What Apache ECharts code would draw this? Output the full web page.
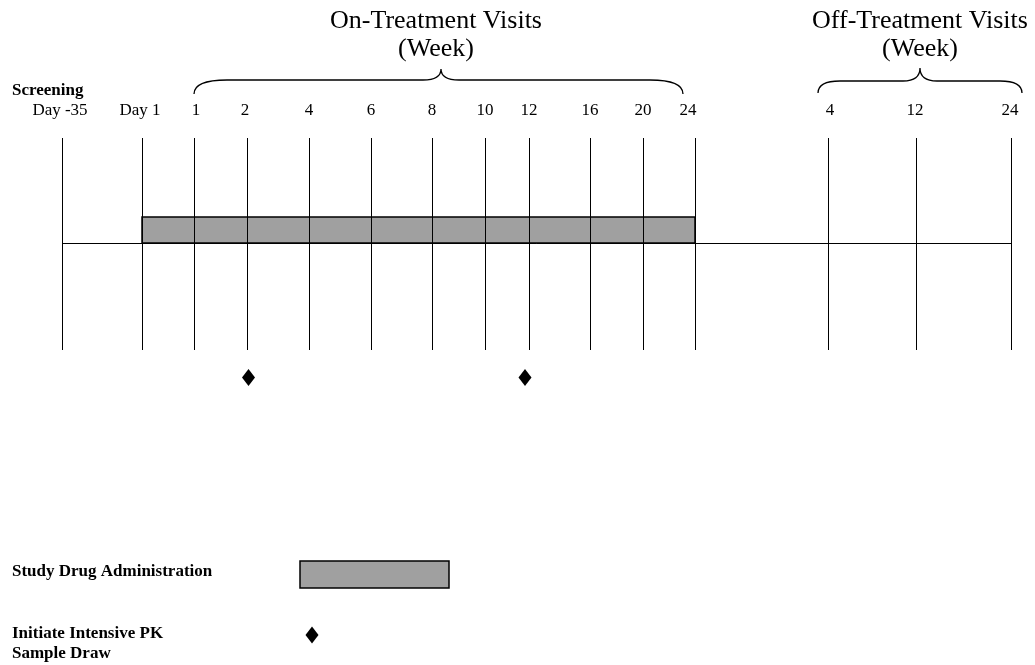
<!DOCTYPE html>
<html>
<head>
<meta charset="utf-8">
<script src="https://cdn.jsdelivr.net/npm/echarts@6/dist/echarts.min.js"></script>
<style>html,body{margin:0;padding:0;background:#fff;}#c{width:1035px;height:665px;}</style>
</head>
<body>
<div id="c"></div>
<script>
// ---- data ----
const visitLabels = ['Day -35','Day 1','1','2','4','6','8','10','12','16','20','24','4','12','24'];
const visitValues = [62,142,194,247,309,371,432,485,529,590,643,695,828,916,1011]; // schematic timeline value
const screeningLabel = 'Screening';
const onTitle = ['On-Treatment Visits','(Week)'];
const offTitle = ['Off-Treatment Visits','(Week)'];
const drugStartIdx = 1;   // Day 1
const drugEndIdx = 11;    // on-treatment week 24
const pkDrawIdx = [3, 8]; // week 2, week 12
const legendLabels = ['Study Drug Administration', 'Initiate Intensive PK', 'Sample Draw'];

// ---- layout (pixel-like units of the schematic) ----
const W = 1035, H = 665;
const LINE_TOP = 138, LINE_BOTTOM = 350, TIMELINE_Y = 243, BAR_TOP = 217;
const DIAMOND_Y = 377.5;
const SERIF = 'Liberation Serif';

const texts = [];
onTitle.forEach((t,i)=>texts.push({t, x:436, y:21+i*28, size:26, weight:'normal', align:'center'}));
offTitle.forEach((t,i)=>texts.push({t, x:920, y:21+i*28, size:26, weight:'normal', align:'center'}));
texts.push({t:screeningLabel, x:12, y:91, size:17, weight:'bold', align:'left'});
const labelShift = {0:-2, 1:-2, 2:2, 3:-2, 11:-7, 12:2, 13:-1, 14:-1};
visitLabels.forEach((t,i)=>texts.push({t, x:visitValues[i]+(labelShift[i]||0), y:111, size:17, weight:'normal', align:'center'}));
texts.push({t:legendLabels[0], x:12, y:572, size:17, weight:'bold', align:'left'});
texts.push({t:legendLabels[1], x:12, y:634, size:17, weight:'bold', align:'left'});
texts.push({t:legendLabels[2], x:12, y:654, size:17, weight:'bold', align:'left'});

const braces = [
  // x1, x2, xm, ytop, ytip, yend, rEnd, rTip
  [194, 683, 441, 80, 69, 94, 33, 18],
  [818, 1022, 920, 81, 68, 93, 22, 17]
];
const pkShift = [1.5, -4];

const chart = echarts.init(document.getElementById('c'), null, {renderer:'canvas'});
chart.setOption({
  animation: false,
  backgroundColor: '#fff',
  grid: {left:0, top:0, width:W, height:H},
  xAxis: {type:'value', min:0, max:W, show:false},
  yAxis: {type:'value', min:0, max:H, inverse:true, show:false},
  series: [
    { // drug administration bar
      type:'custom', z:1,
      data:[[visitValues[drugStartIdx], visitValues[drugEndIdx]]],
      renderItem:(p, api)=>{
        const a = api.coord([api.value(0), BAR_TOP]);
        const b = api.coord([api.value(1), TIMELINE_Y]);
        return {type:'rect', shape:{x:a[0], y:a[1], width:b[0]-a[0], height:b[1]-a[1]},
          style:{fill:'#a0a0a0', stroke:'#000', lineWidth:1.5}};
      }
    },
    { // vertical visit lines
      type:'custom', z:2,
      data: visitValues.map(v=>[v]),
      renderItem:(p, api)=>{
        const a = api.coord([api.value(0), LINE_TOP]);
        const b = api.coord([api.value(0), LINE_BOTTOM]);
        return {type:'line', shape:{x1:Math.round(a[0])+0.5, y1:a[1], x2:Math.round(b[0])+0.5, y2:b[1]},
          style:{stroke:'#000', lineWidth:1}};
      }
    },
    { // horizontal timeline
      type:'custom', z:3,
      data:[[visitValues[0], visitValues[visitValues.length-1]]],
      renderItem:(p, api)=>{
        const a = api.coord([api.value(0), TIMELINE_Y]);
        const b = api.coord([api.value(1), TIMELINE_Y]);
        return {type:'line', shape:{x1:a[0], y1:Math.round(a[1])+0.5, x2:b[0], y2:Math.round(b[1])+0.5},
          style:{stroke:'#000', lineWidth:1}};
      }
    },
    { // PK draws
      type:'scatter', z:4,
      symbol:'diamond', symbolSize:[13,17],
      itemStyle:{color:'#000', opacity:1},
      data: pkDrawIdx.map((i,k)=>[visitValues[i]+pkShift[k], DIAMOND_Y])
    },
    { // braces
      type:'custom', z:4,
      data: braces,
      renderItem:(p, api)=>{
        const v = i=>api.value(i);
        const x1=v(0), x2=v(1), xm=v(2), yt=v(3), yp=v(4), ye=v(5), r=v(6), rt=v(7);
        const c = (x,y)=>api.coord([x,y]).join(',');
        const d = 'M'+c(x1,ye)+' Q'+c(x1,yt)+' '+c(x1+r,yt)+' L'+c(xm-rt,yt)+
                  ' Q'+c(xm,yt)+' '+c(xm,yp)+' Q'+c(xm,yt)+' '+c(xm+rt,yt)+
                  ' L'+c(x2-r,yt)+' Q'+c(x2,yt)+' '+c(x2,ye);
        return {type:'path', shape:{pathData:d}, style:{fill:null, stroke:'#000', lineWidth:1.3}};
      }
    },
    { // legend: bar sample
      type:'custom', z:4,
      data:[[300, 561, 449, 588]],
      renderItem:(p, api)=>{
        const a = api.coord([api.value(0), api.value(1)]);
        const b = api.coord([api.value(2), api.value(3)]);
        return {type:'rect', shape:{x:a[0], y:a[1], width:b[0]-a[0], height:b[1]-a[1]},
          style:{fill:'#a0a0a0', stroke:'#000', lineWidth:1.5}};
      }
    },
    { // legend: diamond sample
      type:'scatter', z:4, symbol:'diamond', symbolSize:[13,17],
      itemStyle:{color:'#000', opacity:1}, data:[[312, 635]]
    },
    { // all texts
      type:'custom', z:5,
      data: texts.map(t=>[t.x, t.y]),
      renderItem:(p, api)=>{
        const t = texts[p.dataIndex];
        const pt = api.coord([api.value(0), api.value(1)]);
        return {type:'text', style:{text:t.t, x:pt[0], y:pt[1], align:t.align, verticalAlign:'middle',
          fontFamily:SERIF, fontSize:t.size, fontWeight:t.weight, fill:'#000'}};
      }
    }
  ]
});
</script>
</body>
</html>
